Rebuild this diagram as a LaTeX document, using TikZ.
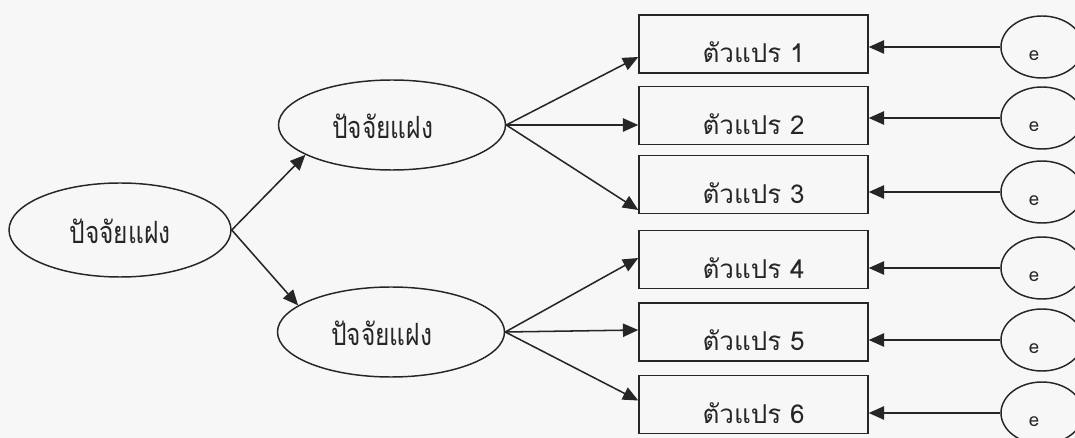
\documentclass[tikz,border=0pt]{standalone}
\usepackage{fontspec}
\newfontfamily\thaifont[Script=Thai]{Loma}
\newfontfamily\thaitall[Script=Thai,FakeStretch=0.8]{Loma}
\usetikzlibrary{shapes.geometric,arrows.meta,calc}
\definecolor{ink}{HTML}{262626}
\definecolor{paper}{HTML}{F7F7F7}
\newcommand\lowtxt[2]{\raisebox{-#1}[0pt][0pt]{#2}}
\begin{document}
\begin{tikzpicture}[x=0.75pt,y=-0.75pt,
  latent/.style={draw=ink,line width=1.1pt,ellipse,inner sep=0pt,text=ink,font=\thaitall\fontsize{23}{26}\selectfont},
  obsbox/.style={draw=ink,line width=1.1pt,rectangle,minimum width=171.75pt,minimum height=43.5pt,inner sep=0pt,text=ink,font=\thaifont\fontsize{19.5}{23}\selectfont},
  errc/.style={draw=ink,line width=1.1pt,ellipse,minimum width=61.5pt,minimum height=46.5pt,inner sep=0pt},
  elab/.style={font=\thaifont\fontsize{14}{16}\selectfont,text=ink,inner sep=0pt},
  arr/.style={draw=ink,line width=1.15pt,-{Triangle[length=11.5pt,width=10pt]}}]
\fill[paper] (0,0) rectangle (1075,438);
\useasboundingbox (0,0) rectangle (1075,438);
% latent factors
\node[latent,minimum width=166.5pt,minimum height=70.5pt] (L) at (120,230) {\lowtxt{10.5pt}{ปัจจัยแฝง}};
\node[latent,minimum width=170.25pt,minimum height=67.5pt] (M1) at (392,125) {\hspace*{-14pt}\lowtxt{10.5pt}{ปัจจัยแฝง}};
\node[latent,minimum width=170.25pt,minimum height=67.5pt] (M2) at (391,332) {\hspace*{-14pt}\lowtxt{10.5pt}{ปัจจัยแฝง}};
% observed variables
\node[obsbox] (V1) at (753.5,44) {\lowtxt{14pt}{ตัวแปร 1}};
\node[obsbox] (V2) at (753.5,115.5) {\lowtxt{14pt}{ตัวแปร 2}};
\node[obsbox] (V3) at (753.5,184.5) {\lowtxt{14pt}{ตัวแปร 3}};
\node[obsbox] (V4) at (753.5,259.5) {\lowtxt{14pt}{ตัวแปร 4}};
\node[obsbox] (V5) at (753.5,332) {\lowtxt{14pt}{ตัวแปร 5}};
\node[obsbox] (V6) at (753.5,404.5) {\lowtxt{14pt}{ตัวแปร 6}};
% error terms
\foreach \i/\y in {1/47,2/118,3/192,4/268,5/340,6/413}{
  \node[errc] (E\i) at (1042,\y) {};
  \node[elab] (T\i) at (1034,\y+9) {e};
}
% paths
\draw[arr] (L.east) -- (M1.199);
\draw[arr] (L.east) -- (M2.164);
\draw[arr] (M1.east) -- ($(V1.west)+(0,13)$);
\draw[arr] (M1.east) -- ($(V2.west)+(0,9.5)$);
\draw[arr] (M1.east) -- ($(V3.west)+(0,25.5)$);
\draw[arr] (M2.east) -- ($(V4.west)+(0,-1.5)$);
\draw[arr] (M2.east) -- ($(V5.west)+(0,-2)$);
\draw[arr] (M2.east) -- ($(V6.west)+(0,-4)$);
\foreach \i in {1,...,6}{
  \draw[arr] (E\i.west) -- (E\i.west -| V\i.east);
}
\end{tikzpicture}
\end{document}
